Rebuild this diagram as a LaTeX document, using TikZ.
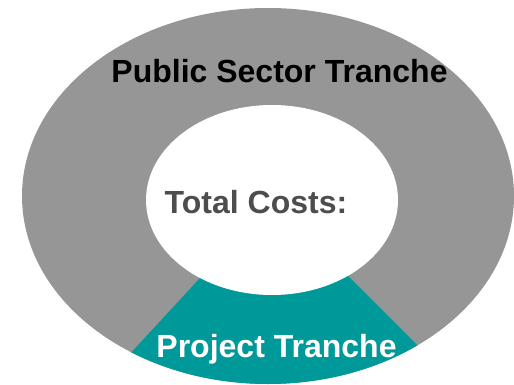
\documentclass[tikz,border=0pt]{standalone}
\usepackage{fontspec}
\setmainfont{Liberation Sans}
\definecolor{ringgray}{RGB}{150,150,150}
\definecolor{teal}{RGB}{0,153,153}
\definecolor{darktext}{RGB}{77,77,77}
\begin{document}
\begin{tikzpicture}[x=1pt,y=-1pt,
  lbl/.style={font=\fontsize{32}{36}\selectfont\bfseries, anchor=base, inner sep=0pt}]
\useasboundingbox (0,0) rectangle (514,385);
% outer ring
\fill[ringgray] (268,196) ellipse [x radius=246, y radius=188];
% teal wedge
\begin{scope}
  \clip (268,196) ellipse [x radius=246, y radius=188];
  \fill[teal] (272,200) -- (56,434) -- (494,422) -- cycle;
\end{scope}
% inner hole
\fill[white] (272,200) ellipse [x radius=126, y radius=95];
% labels
\node[lbl, text=black] (pub) at (279.5,83) {Public Sector Tranche};
\node[lbl, text=darktext] (tot) at (256,213) {Total Costs:};
\node[lbl, text=white] (proj) at (276.5,357) {Project Tranche};
\end{tikzpicture}
\end{document}
